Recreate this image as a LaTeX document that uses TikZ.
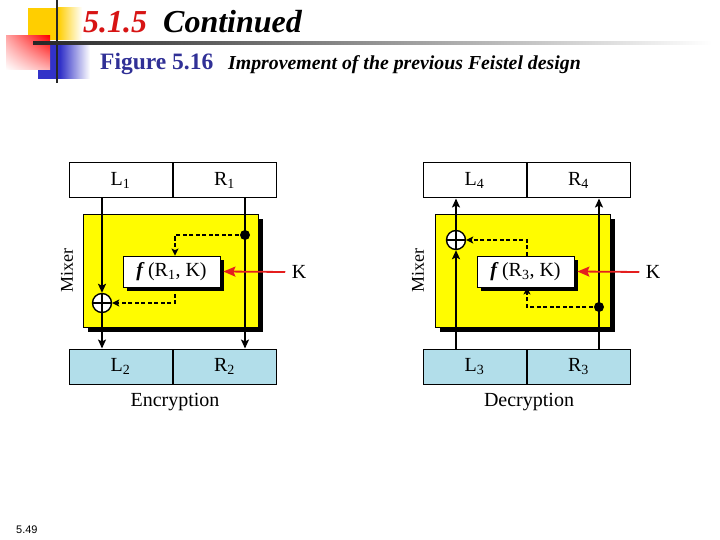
\documentclass[tikz,border=0pt]{standalone}
\usepackage{fontspec}
\setmainfont{Liberation Serif}
\newfontfamily\slidenum{Liberation Sans}
\usetikzlibrary{positioning,arrows.meta,shadows,shadings}

\definecolor{mixyellow}{RGB}{255,252,0}
\definecolor{outblue}{RGB}{178,222,234}
\definecolor{keyred}{RGB}{228,30,30}
\definecolor{figblue}{RGB}{48,48,150}
\definecolor{secred}{RGB}{215,20,20}
\definecolor{sqgold}{RGB}{255,206,0}
\definecolor{sqblue}{RGB}{50,50,200}

\tikzset{
  half/.style={draw, line width=1pt, minimum width=103pt, minimum height=35pt, inner sep=0pt, font=\fontsize{20}{20}\selectfont},
  topbox/.style={half, fill=white},
  botbox/.style={half, fill=outblue},
  mixer/.style={draw, line width=0.8pt, fill=mixyellow, minimum width=175pt, minimum height=113pt,
    drop shadow={shadow xshift=4.5pt, shadow yshift=-4.5pt, fill=black, opacity=1}},
  fbox/.style={draw, line width=0.8pt, fill=white, minimum width=97pt, minimum height=31pt, inner sep=0pt,
    font=\fontsize{20}{20}\selectfont,
    drop shadow={shadow xshift=4pt, shadow yshift=-4pt, fill=black, opacity=1}},
  xor/.style={circle, draw, line width=1.4pt, fill=white, minimum size=19pt, inner sep=0pt,
    path picture={\draw[line width=1.4pt] (path picture bounding box.north) -- (path picture bounding box.south)
      (path picture bounding box.west) -- (path picture bounding box.east);}},
  lbl/.style={font=\fontsize{20}{20}\selectfont},
  arr/.style={line width=1.8pt, -{Stealth[length=9pt,width=8pt,inset=2pt]}},
  dasharr/.style={line width=1.6pt, dash pattern=on 4pt off 2.5pt, -{Stealth[length=7pt,width=7pt,inset=1.5pt]}},
  keyarr/.style={keyred, line width=1.8pt, -{Stealth[length=12pt,width=10pt,inset=2pt]}}
}

\begin{document}
\begin{tikzpicture}[x=1pt, y=-1pt]
\useasboundingbox (0,0) rectangle (720,540);

% slide header
\fill[sqgold] (28,8) rectangle (58,40);
\shade[left color=sqgold, right color=white] (58,8) rectangle (82,40);
\fill[sqblue] (38,45) rectangle (60,79);
\shade[left color=sqblue, right color=white] (60,45) rectangle (90,79);
\shade[upper left=red!35, upper right=red, lower left=white, lower right=red!30] (6,36) rectangle (50,70);
\draw[black!85, line width=2.5pt] (57,0) -- (57,83);
\shade[left color=black!85, middle color=black!55, right color=white] (33,41.8) rectangle (712,44.8);

\node[anchor=base west, inner sep=0pt, font=\fontsize{32}{32}\selectfont\bfseries\itshape] (title) at (83,33)
  {\textcolor{secred}{5.1.5}\enspace Continued};
\node[anchor=base west, inner sep=0pt, font=\fontsize{23.5}{23.5}\selectfont\bfseries, text=figblue] (fignum) at (100,70) {Figure 5.16};
\node[anchor=base west, inner sep=0pt, font=\fontsize{19.8}{19.8}\selectfont\bfseries\itshape] (figcap) at (228,70)
  {Improvement of the previous Feistel design};

% encryption
\node[topbox] (L1) at (120.5,180.5) {L\textsubscript{1}};
\node[topbox, right=0pt of L1] (R1) {R\textsubscript{1}};
\node[mixer] (mix1) at (170.5,271) {};
\node[fbox] (f1) at (171.5,271.5) {\textbf{\textit{f}}\,(R\textsubscript{1}, K)};
\node[botbox] (L2) at (120.5,366.5) {L\textsubscript{2}};
\node[botbox, right=0pt of L2] (R2) {R\textsubscript{2}};
\node[xor] (xor1) at (102,303) {};
\coordinate (dot1) at (245,235);
\node[lbl, rotate=90] (mixlbl1) at (67,271) {\fontsize{18}{18}\selectfont Mixer};
\node[lbl] (k1) at (299,272) {K};
\node[lbl] (enc) at (175,402) {Encryption};

\draw[arr] (xor1 |- L1.south) -- (xor1.north);
\draw[arr] (xor1.south) -- (xor1 |- L2.north);
\draw[arr] (dot1 |- R1.south) -- (dot1 |- R2.north);
\fill (dot1) circle (5pt);
\draw[dasharr] (dot1) -| ([xshift=3.5pt]f1.north);
\draw[dasharr] ([xshift=3.5pt]f1.south) |- (xor1.east);
\draw[keyarr] ([xshift=-3pt]k1.west) -- ([xshift=3pt]f1.east);

% decryption
\node[topbox] (L4) at (474.5,180.5) {L\textsubscript{4}};
\node[topbox, right=0pt of L4] (R4) {R\textsubscript{4}};
\node[mixer] (mix2) at (522.5,271) {};
\node[fbox] (f2) at (525.5,271.5) {\textbf{\textit{f}}\,(R\textsubscript{3}, K)};
\node[botbox] (L3) at (474.5,366.5) {L\textsubscript{3}};
\node[botbox, right=0pt of L3] (R3) {R\textsubscript{3}};
\node[xor] (xor2) at (456,240) {};
\coordinate (dot2) at (599,307);
\node[lbl, rotate=90] (mixlbl2) at (418,271) {\fontsize{18}{18}\selectfont Mixer};
\node[lbl] (k2) at (653,272) {K};
\node[lbl] (dec) at (529,402) {Decryption};

\draw[arr] (xor2 |- L3.north) -- (xor2.south);
\draw[arr] (xor2.north) -- (xor2 |- L4.south);
\draw[arr] (dot2 |- R3.north) -- (dot2 |- R4.south);
\fill (dot2) circle (5pt);
\draw[dasharr] (dot2) -| ([xshift=1.5pt]f2.south);
\draw[dasharr] ([xshift=1.5pt]f2.north) |- (xor2.east);
\draw[keyarr] ([xshift=-3pt]k2.west) -- ([xshift=3pt]f2.east);

\node[anchor=base west, inner sep=0pt, font=\slidenum\fontsize{11}{11}\selectfont] (pageno) at (16,533) {5.49};
\end{tikzpicture}
\end{document}
